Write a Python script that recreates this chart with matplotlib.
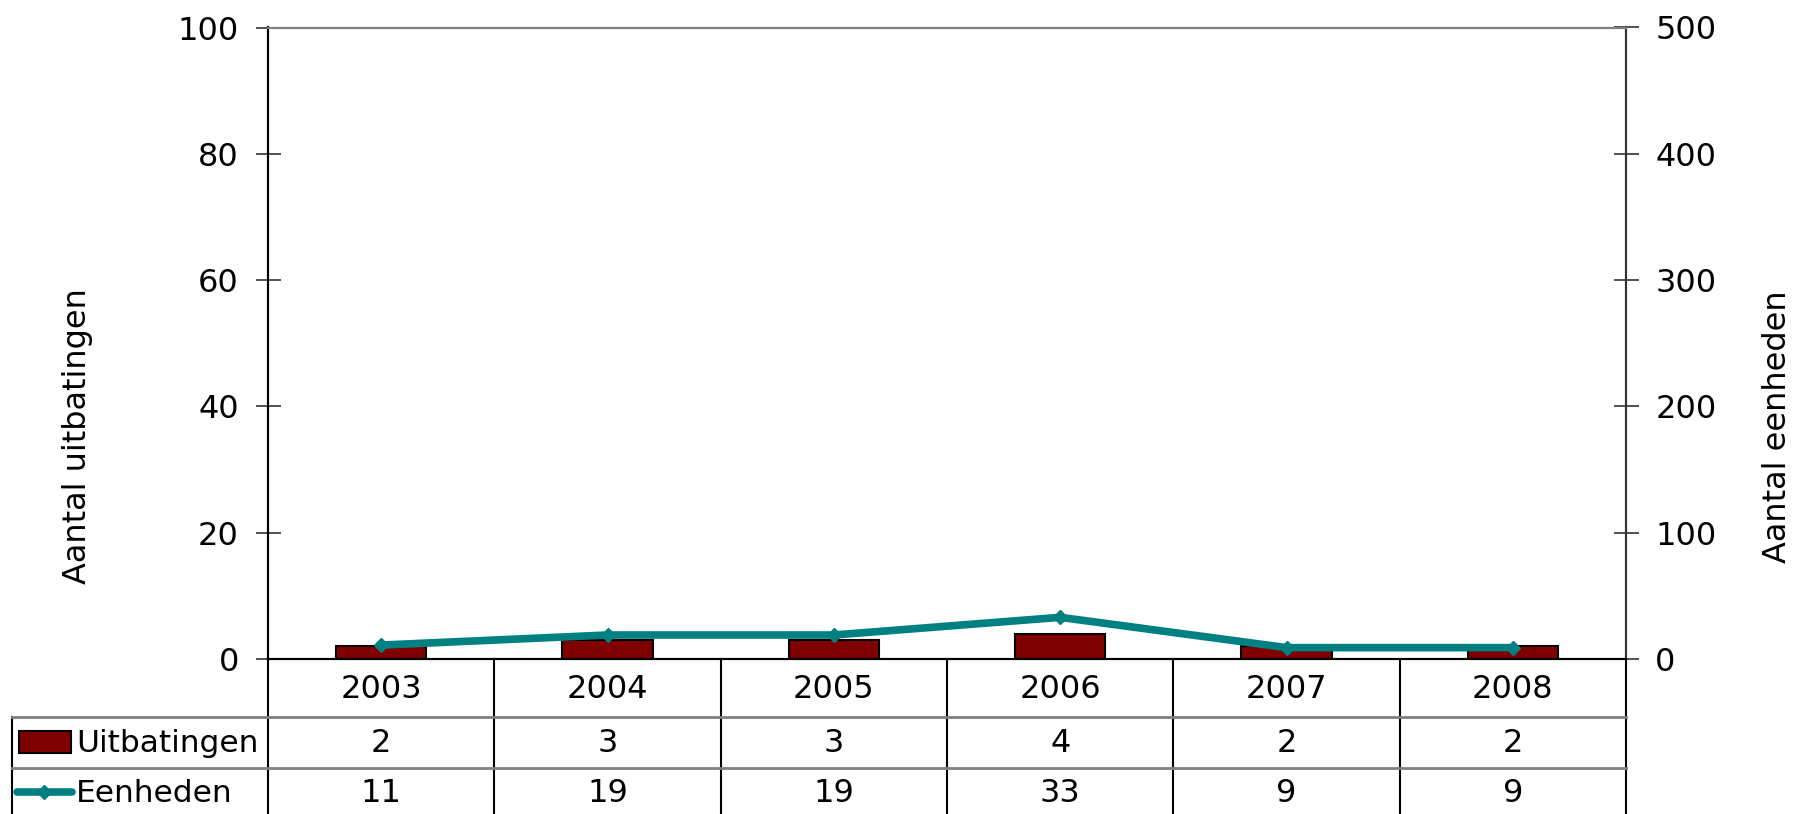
import matplotlib
matplotlib.use("Agg")
import matplotlib.pyplot as plt
from matplotlib.patches import Rectangle
from matplotlib.lines import Line2D
import numpy as np

years = ["2003", "2004", "2005", "2006", "2007", "2008"]
uitbatingen = [2, 3, 3, 4, 2, 2]
eenheden = [11, 19, 19, 33, 9, 9]
left_ticks = [0, 20, 40, 60, 80, 100]
right_ticks = [0, 100, 200, 300, 400, 500]
bar_label = "Uitbatingen"
line_label = "Eenheden"
left_ylabel = "Aantal uitbatingen"
right_ylabel = "Aantal eenheden"

plt.rcParams['font.family'] = ['DejaVu Sans']
FS = 23
FS_ROW = 22.5
BAR_COLOR = "#800000"
LINE_COLOR = "#008080"

W, H = 1798, 814
fig = plt.figure(figsize=(W / 100, H / 100), dpi=100)
L, R, T, B = 268, 1626, 27.5, 659
ax = fig.add_axes([L / W, (H - B) / H, (R - L) / W, (B - T) / H])
ax2 = ax.twinx()

x = np.arange(len(years))
ax.bar(x, uitbatingen, width=0.4, color=BAR_COLOR, edgecolor="black", linewidth=1.5, zorder=2)
ax2.plot(x, eenheden, color=LINE_COLOR, linewidth=5.5, marker="D", markersize=7.5, zorder=3)

ax.set_xlim(-0.5, len(years) - 0.5)
ax.set_ylim(0, 100)
ax2.set_ylim(0, 500)
ax.set_yticks(left_ticks)
ax2.set_yticks(right_ticks)
ax.set_xticks([])
for a in (ax, ax2):
    a.tick_params(axis="y", direction="inout", length=18, width=1.2, pad=12, labelsize=FS,
                  colors="#333333", labelcolor="black")

ax.spines["top"].set_color("#808080")
ax2.spines["top"].set_color("#808080")
ax.spines["left"].set_color("#333333")
ax2.spines["right"].set_color("#333333")
ax.spines["bottom"].set_color("black")
for sp in list(ax.spines.values()) + list(ax2.spines.values()):
    sp.set_linewidth(1.5)

fig.text(78 / W, 1 - 436 / H, left_ylabel, rotation=90, ha="center", va="center", fontsize=FS)
fig.text(1777 / W, 1 - 427 / H, right_ylabel, rotation=90, ha="center", va="center", fontsize=FS)

# data table below the chart
axh = B - T
def ay(py):
    return (B - py) / axh
def axx(px):
    return (px - L) / (R - L)

y_r1 = ay(717)
y_r2 = ay(768)
y_bot = ay(814)
x_tab = axx(11.5)

for b in np.arange(len(years) + 1) - 0.5:
    ax.add_line(Line2D([b, b], [0, y_bot], transform=ax.get_xaxis_transform(),
                       color="black", linewidth=1.5, clip_on=False))
ax.add_line(Line2D([x_tab, x_tab], [y_r1, y_bot], transform=ax.transAxes,
                   color="black", linewidth=1.5, clip_on=False))
for yy in (y_r1, y_r2):
    ax.add_line(Line2D([x_tab, 1], [yy, yy], transform=ax.transAxes,
                       color="#808080", linewidth=2, clip_on=False))

tr = ax.get_xaxis_transform()
for i, yr in enumerate(years):
    ax.text(x[i], ay(690), yr, transform=tr, ha="center", va="center", fontsize=FS, clip_on=False)
    ax.text(x[i], ay(743), str(uitbatingen[i]), transform=tr, ha="center", va="center", fontsize=FS, clip_on=False)
    ax.text(x[i], ay(793), str(eenheden[i]), transform=tr, ha="center", va="center", fontsize=FS, clip_on=False)

# legend keys
ax.add_patch(Rectangle((axx(19), ay(753)), axx(71) - axx(19), ay(731) - ay(753),
                       transform=ax.transAxes, facecolor=BAR_COLOR, edgecolor="black",
                       linewidth=1.5, clip_on=False))
ax.text(axx(76), ay(743), bar_label, transform=ax.transAxes, ha="left", va="center",
        fontsize=FS_ROW, clip_on=False)
ax.add_line(Line2D([axx(17), axx(72)], [ay(792), ay(792)], transform=ax.transAxes,
                   color=LINE_COLOR, linewidth=5.5, solid_capstyle="round", clip_on=False))
ax.add_line(Line2D([axx(44)], [ay(792)], transform=ax.transAxes, color=LINE_COLOR,
                   marker="D", markersize=7.5, linestyle="none", clip_on=False))
ax.text(axx(76), ay(793), line_label, transform=ax.transAxes, ha="left", va="center",
        fontsize=FS_ROW, clip_on=False)

fig.savefig("out.png", dpi=100)
